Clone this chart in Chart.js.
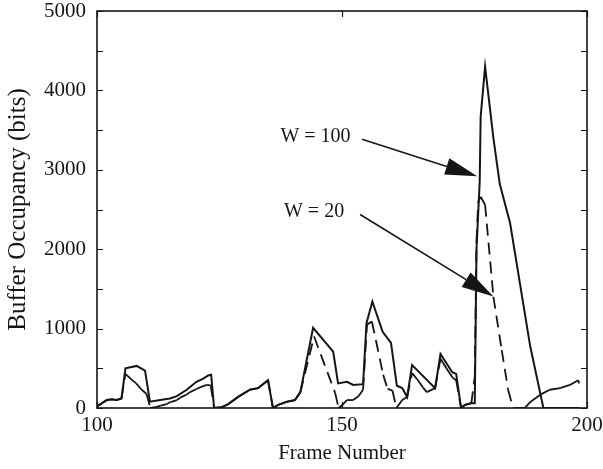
<!DOCTYPE html>
<html>
<head>
<meta charset="utf-8">
<script src="https://cdn.jsdelivr.net/npm/chart.js@4/dist/chart.umd.min.js"></script>
<style>
  html, body { margin: 0; padding: 0; background: #fff; }
  #wrap { width: 603px; height: 469px; }
</style>
</head>
<body>
<div id="wrap"><canvas id="c" width="603" height="469"></canvas></div>
<script>
// Buffer occupancy per frame for two smoothing window sizes
const framesW100 = [100, 101, 102, 103, 104, 105, 105.8, 108.1, 109.8, 110.8, 112.9, 114.9, 116.3, 118.3, 120.3,
  121.7, 122.7, 123.3, 123.9, 125.5, 126.8, 128.8, 131.2, 132.9, 134.9, 135.9, 137, 138.8, 140.4, 141.5,
  144.1, 148.2, 149.2, 151, 152.3, 154.3, 155, 156.2, 158.3, 160, 161.2, 162.3, 163.3, 164.3,
  169, 170.1, 172.5, 173.3, 174.3, 175.1, 176.4, 177.1, 177.45, 178.1, 178.3, 179.2,
  180.9, 182.2, 184.3, 188.4, 191.1, 198.4];
const bitsW100 = [20, 60, 100, 110, 100, 120, 500, 530, 470, 80, 100, 120, 150, 230, 330,
  370, 410, 420, 0, 10, 50, 140, 230, 250, 350, 0, 40, 80, 100, 200,
  1010, 710, 310, 330, 290, 300, 1070, 1340, 960, 820, 280, 250, 140, 540,
  250, 680, 450, 430, 0, 40, 60, 60, 2000, 2850, 3670, 4300,
  3400, 2820, 2330, 780, 0, 0];

const framesW20 = [100, 101, 102, 103, 104, 105, 105.8, 107, 108, 109.1, 110.1, 110.9, 112, 113, 114.2, 115,
  116.3, 117, 118.3, 119, 120.3, 121, 122.4, 123.2, 123.9, 125.5, 126.8, 128.8, 131.2, 132.9, 134.9, 135.9,
  137, 138.8, 140.4, 141.5, 144.3, 148.6, 149.3, 150.1, 151, 152.3, 153.4, 154.3, 155.1, 156.1, 158.4,
  159.3, 160.3, 161.1, 162.3, 163.3, 164.3, 165.5, 166.5, 167.3, 169, 170.1, 171.3, 172.6, 173.3, 174.3,
  175.1, 176.4, 177.1, 177.45, 177.8, 178.3, 179.2, 180.9, 182.6, 183.9, 184.9, 187.3, 188.5, 190.4,
  192.4, 194.5, 196.5, 198.2, 198.4];
const bitsW20 = [20, 60, 100, 110, 100, 120, 430, 360, 310, 230, 180, 0, 10, 30, 50, 75,
  100, 130, 170, 200, 240, 260, 290, 285, 0, 10, 50, 140, 230, 250, 350, 0,
  40, 80, 100, 200, 900, 190, 0, 40, 100, 100, 150, 230, 1050, 1090, 420,
  240, 220, 0, 100, 140, 440, 350, 260, 200, 250, 620, 500, 380, 350, 0,
  40, 60, 400, 2100, 2600, 2660, 2560, 1400, 730, 230, 0, 0, 80, 165,
  230, 250, 290, 350, 310];

// Axis labels and tick marks
const frameTickLabels = [100, 150, 200];
const bitsTickLabels = [0, 1000, 2000, 3000, 4000, 5000];
const bitsTickMarks = [0, 500, 1000, 1500, 2000, 2500, 3000, 3500, 4000, 4500, 5000];

// Callout texts with arrows (frame, bits)
const calloutTexts = ['W = 100', 'W = 20'];
const calloutTextAt = [[144.6, 3420], [144.3, 2475]];
const calloutArrowFrom = [[154.1, 3384], [153.7, 2437]];
const calloutArrowTo = [[177.6, 2920], [180.9, 1405]];

const SERIF = "'Liberation Serif', 'Times New Roman', serif";
const INK = '#151515';

const toPoints = (xs, ys) => xs.map((x, i) => ({ x: x, y: ys[i] }));

// Box frame with inward tick marks on all four sides
const frameBox = {
  id: 'frameBox',
  afterDatasetsDraw(chart) {
    const { ctx, chartArea: a, scales: { x, y } } = chart;
    ctx.save();
    ctx.strokeStyle = INK;
    ctx.lineWidth = 1.6;
    ctx.strokeRect(a.left, a.top, a.right - a.left, a.bottom - a.top);
    ctx.lineWidth = 1.2;
    ctx.beginPath();
    const len = 6;
    bitsTickMarks.forEach(v => {
      const py = Math.round(y.getPixelForValue(v)) + 0.5;
      ctx.moveTo(a.left, py); ctx.lineTo(a.left + len, py);
      ctx.moveTo(a.right, py); ctx.lineTo(a.right - len, py);
    });
    frameTickLabels.forEach(v => {
      const px = Math.round(x.getPixelForValue(v)) + 0.5;
      ctx.moveTo(px, a.bottom); ctx.lineTo(px, a.bottom - len);
      ctx.moveTo(px, a.top); ctx.lineTo(px, a.top + len);
    });
    ctx.stroke();
    ctx.restore();
  }
};

// Text callouts with filled arrowheads pointing at the curves
const callouts = {
  id: 'callouts',
  afterDraw(chart) {
    const { ctx, scales: { x, y } } = chart;
    ctx.save();
    ctx.fillStyle = INK;
    ctx.strokeStyle = INK;
    ctx.font = '20px ' + SERIF;
    ctx.textAlign = 'center';
    ctx.textBaseline = 'middle';
    calloutTexts.forEach((t, i) => {
      ctx.fillText(t, x.getPixelForValue(calloutTextAt[i][0]), y.getPixelForValue(calloutTextAt[i][1]));
      const x0 = x.getPixelForValue(calloutArrowFrom[i][0]), y0 = y.getPixelForValue(calloutArrowFrom[i][1]);
      const x1 = x.getPixelForValue(calloutArrowTo[i][0]), y1 = y.getPixelForValue(calloutArrowTo[i][1]);
      const ang = Math.atan2(y1 - y0, x1 - x0);
      const head = 32, half = 8.5;
      const bx = x1 - head * Math.cos(ang), by = y1 - head * Math.sin(ang);
      ctx.lineWidth = 1.6;
      ctx.beginPath();
      ctx.moveTo(x0, y0);
      ctx.lineTo(bx, by);
      ctx.stroke();
      ctx.beginPath();
      ctx.moveTo(x1, y1);
      ctx.lineTo(bx + half * Math.sin(ang), by - half * Math.cos(ang));
      ctx.lineTo(bx - half * Math.sin(ang), by + half * Math.cos(ang));
      ctx.closePath();
      ctx.fill();
    });
    ctx.restore();
  }
};

// Fixed axis sizes without extra room for overhanging labels
const fixBox = (s, w, h) => {
  if (w !== null) s.width = w;
  if (h !== null) s.height = h;
  s.paddingTop = 0; s.paddingBottom = 0; s.paddingLeft = 0; s.paddingRight = 0;
};

new Chart(document.getElementById('c'), {
  type: 'line',
  data: {
    datasets: [
      {
        label: 'W = 20',
        data: toPoints(framesW20, bitsW20),
        borderColor: INK,
        borderWidth: 1.8,
        pointRadius: 0,
        fill: false,
        tension: 0,
        // dash pattern restarts at every vertex
        segment: { borderDash: c => (c.p0DataIndex % 2 ? [12, 7] : [12, 7.001]) }
      },
      {
        label: 'W = 100',
        data: toPoints(framesW100, bitsW100),
        borderColor: INK,
        borderWidth: 2,
        pointRadius: 0,
        fill: false,
        tension: 0
      }
    ]
  },
  options: {
    responsive: false,
    animation: false,
    events: [],
    layout: { padding: { top: 11, right: 16, left: 0, bottom: 0 } },
    plugins: { legend: { display: false }, tooltip: { enabled: false } },
    scales: {
      x: {
        type: 'linear',
        min: 100,
        max: 200,
        afterFit: s => fixBox(s, null, 61),
        afterBuildTicks: s => { s.ticks = frameTickLabels.map(v => ({ value: v })); },
        grid: { display: false, drawTicks: false },
        border: { display: false },
        ticks: { color: INK, font: { family: SERIF, size: 21 }, padding: 5, maxRotation: 0, callback: v => String(v) },
        title: { display: true, text: 'Frame Number', color: INK, font: { family: SERIF, size: 21 }, padding: { top: 0, bottom: 3 } }
      },
      y: {
        type: 'linear',
        min: 0,
        max: 5000,
        afterFit: s => fixBox(s, 97, null),
        afterBuildTicks: s => { s.ticks = bitsTickLabels.map(v => ({ value: v })); },
        grid: { display: false, drawTicks: false },
        border: { display: false },
        ticks: { color: INK, font: { family: SERIF, size: 21 }, padding: 11, callback: v => String(v) },
        title: { display: true, text: 'Buffer Occupancy (bits)', color: INK, font: { family: SERIF, size: 25 }, padding: { top: 3, bottom: 0 } }
      }
    }
  },
  plugins: [frameBox, callouts]
});
</script>
</body>
</html>
